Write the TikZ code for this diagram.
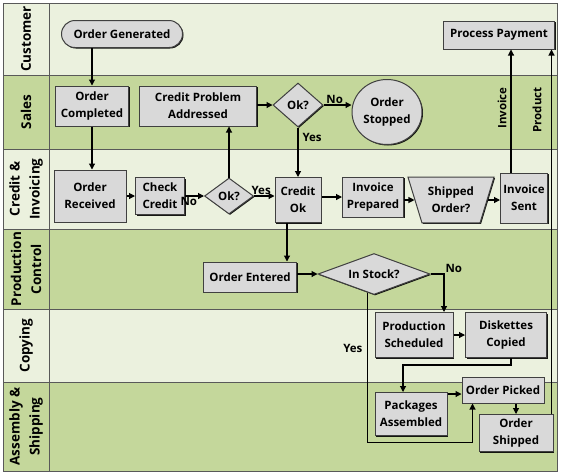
\documentclass[tikz,border=0pt]{standalone}
\usepackage{fontspec}
\setmainfont{Open Sans}
\usetikzlibrary{shapes.geometric,arrows.meta,shadows}
\definecolor{laneLight}{HTML}{EBF1DE}
\definecolor{laneDark}{HTML}{C4D79B}
\definecolor{boxFill}{HTML}{D9D9D9}
\definecolor{laneLine}{HTML}{595959}

\tikzstyle{every node}=[font={\bfseries\fontsize{11.5}{17}\selectfont}, align=center, inner sep=2pt]
\tikzstyle{task}=[draw=black!75, line width=1pt, fill=boxFill,
    drop shadow={shadow xshift=1pt, shadow yshift=-1pt, fill=black, opacity=0.9}]
\tikzstyle{terminal}=[task, rounded corners=13.5pt]
\tikzstyle{decision}=[task, diamond, inner sep=0pt]
\tikzstyle{lanename}=[rotate=90, font={\bfseries\fontsize{13.5}{20}\selectfont}]
\tikzstyle{sidelabel}=[rotate=90]
\tikzstyle{flow}=[line width=1.1pt, -{Triangle[length=6pt,width=6pt]}]

\begin{document}
\begin{tikzpicture}[x=1pt,y=-1pt]
    \useasboundingbox (0,0) rectangle (561,475);
    \foreach \ytop/\ybot/\col/\lname in {3/75/laneLight/Customer, 75/149/laneDark/Sales,
        149/229/laneLight/{Credit \&\\Invoicing}, 229/309/laneDark/{Production\\Control},
        309/382/laneLight/Copying, 382/471/laneDark/{Assembly \&\\Shipping}} {
        \draw[laneLine, line width=1pt, fill=\col] (3,\ytop) rectangle (557,\ybot);
        \node[lanename] (lane\ytop) at (26,{(\ytop+\ybot)/2}) {\lname};
    }
    \draw[laneLine, line width=1pt] (49,3) -- (49,471);

    \node[terminal, minimum width=121, minimum height=27] (gen) at (122,34) {Order Generated};
    \node[task, minimum width=73, minimum height=40] (comp) at (92,106) {Order\\Completed};
    \node[task, minimum width=117, minimum height=40] (prob) at (198,106) {Credit Problem\\Addressed};
    \node[decision, minimum width=50, minimum height=44] (ok1) at (298,105) {Ok?};
    \node[task, ellipse, minimum width=70, minimum height=65, inner sep=0pt] (stop) at (387,112) {Order\\Stopped};
    \node[task, minimum width=111, minimum height=28] (pay) at (499,35) {Process Payment};

    \node[task, minimum width=72, minimum height=52] (recv) at (90,196) {Order\\Received};
    \node[task, minimum width=49, minimum height=37] (check) at (160,196) {Check\\Credit};
    \node[decision, minimum width=49, minimum height=36] (ok2) at (229,196) {Ok?};
    \node[task, minimum width=46, minimum height=45] (cok) at (298,200) {Credit\\Ok};
    \node[task, minimum width=61, minimum height=40] (prep) at (373,197) {Invoice\\Prepared};
    \node[task, trapezium, shape border rotate=180, trapezium left angle=73, trapezium right angle=73,
        inner xsep=6pt, inner ysep=10pt] (ship) at (451,200) {Shipped\\Order?};
    \node[task, minimum width=47, minimum height=50] (sent) at (524,198) {Invoice\\Sent};

    \node[task, minimum width=93, minimum height=30] (entr) at (250,277) {Order Entered};
    \node[decision, aspect=2.7, minimum width=112, minimum height=41] (stock) at (374,274) {In Stock?};

    \node[task, minimum width=78, minimum height=45] (sched) at (414,335) {Production\\Scheduled};
    \node[task, minimum width=81, minimum height=45] (copied) at (506,335) {Diskettes\\Copied};

    \node[task, minimum width=72, minimum height=43] (pack) at (411,414) {Packages\\Assembled};
    \node[task, minimum width=82, minimum height=26] (pick) at (503,390) {Order Picked};
    \node[task, minimum width=74, minimum height=37] (shipd) at (516,433) {Order\\Shipped};

    \node[sidelabel] (invlbl) at (502,108) {Invoice};
    \node[sidelabel] (prodlbl) at (537,110) {Product};

    \draw[flow] (gen.south -| comp) -- (comp.north);
    \draw[flow] (comp.south) -- (comp.south |- recv.north);
    \draw[flow] (recv.east) -- (check.west);
    \draw[flow] (check.east) -- node[below, pos=0.2, inner sep=1pt] {No} (ok2.west);
    \draw[flow] (ok2.north) -- (ok2.north |- prob.south);
    \draw[flow] (ok2.east) -- node[above, pos=0.35, inner sep=1pt] {Yes} (ok2.east -| cok.west);
    \draw[flow] (prob.east |- ok1) -- (ok1.west);
    \draw[flow] (ok1.east) -- node[above, pos=0.4, inner sep=1pt] {No} (stop.west |- ok1.east);
    \draw[flow] (ok1.south) -- node[right, pos=0.2, inner sep=4pt] {Yes} (cok.north);
    \draw[flow] (cok.east |- prep) -- (prep.west);
    \draw[flow] (prep.east |- ship.west) -- (ship.west);
    \draw[flow] (ship.east) -- (sent.west |- ship.east);
    \draw[flow] ([xshift=-13pt]sent.north) -- ([xshift=-13pt]sent.north |- pay.south);
    \draw[flow] ([xshift=-2pt]shipd.north east) -- ([xshift=-2pt]shipd.north east |- pay.south);
    \draw[flow] ([xshift=-11pt]cok.south) -- ([xshift=-11pt]cok.south |- entr.north);
    \draw[flow] (entr.east |- stock.west) -- (stock.west);
    \draw[flow] (stock.east) -| node[above right, pos=0.5, inner sep=1pt] {No} ([xshift=30pt]sched.north);
    \draw[flow] (stock.252) -- node[left, pos=0.37, inner sep=5pt] {Yes} ++(0,150) -| ([xshift=11pt]pick.south west);
    \draw[flow] (sched.east) -- (copied.west);
    \draw[flow] ([xshift=5pt]copied.south) -- ++(0,7) -| ([xshift=-8pt]pack.north);
    \draw[flow] ([yshift=20pt]pack.east) -- ([yshift=20pt]pack.east -| pick.west);
    \draw[flow] (pick.south -| shipd.north) -- (shipd.north);
\end{tikzpicture}
\end{document}
